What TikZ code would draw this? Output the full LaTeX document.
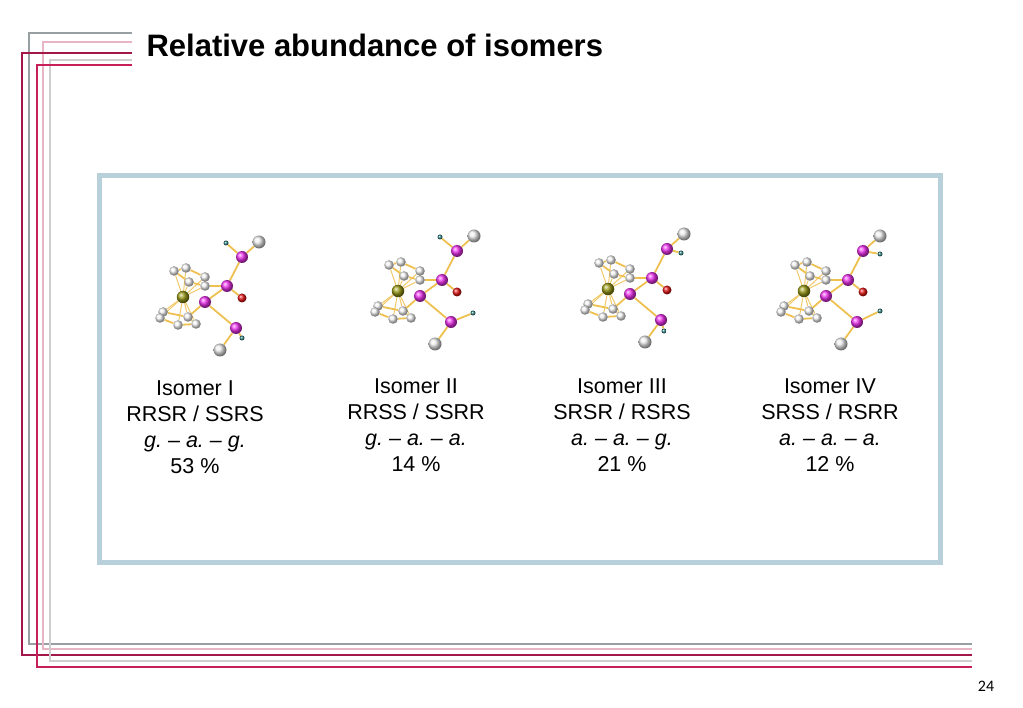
\documentclass[tikz,border=0pt]{standalone}
\usepackage{fontspec}
\setmainfont{Liberation Sans}
\newfontfamily\pagefont{Carlito}
\usetikzlibrary{backgrounds}
\frenchspacing

% Colours of the slide
\definecolor{framegray}{HTML}{979FA3}
\definecolor{framepink}{HTML}{E8B5C5}
\definecolor{framemaroon}{HTML}{A3174A}
\definecolor{framelight}{HTML}{CFCFCF}
\definecolor{framecrimson}{HTML}{C81E5A}
\definecolor{boxblue}{HTML}{B7D0DA}
\definecolor{bondgold}{HTML}{EEC050}
\definecolor{ironolive}{HTML}{9A9A18}
\definecolor{phosmag}{HTML}{EE30EE}
\definecolor{oxred}{HTML}{E01515}
\definecolor{hteal}{HTML}{2E7D7D}

\tikzset{
  frameline/.style={line width=1.5pt},
  bond/.style={draw=bondgold, line width=1.8pt},
  febond/.style={draw=bondgold!85!white, line width=1pt},
  atom/.style={circle, inner sep=0pt},
  carbon/.style={atom, ball color=white!88!gray, minimum size=9.5pt},
  iron/.style={atom, ball color=ironolive, minimum size=12.5pt},
  phos/.style={atom, ball color=phosmag, minimum size=12pt},
  oxy/.style={atom, ball color=oxred, minimum size=9pt},
  hyd/.style={atom, ball color=hteal, minimum size=5pt},
  endball/.style={atom, ball color=white!85!gray, minimum size=13pt},
  isotext/.style={align=center, font=\fontsize{21.5}{26}\selectfont}
}

% One ferrocene molecule: prefix, x, y of Fe, offset of upper H, offset of lower H
\newcommand{\ferrocene}[5]{%
\begin{scope}[shift={(#2,#3)}]
  % iron and the two rings
  \node[iron] (#1fe) at (0,0) {};
  \node[carbon] (#1u1) at (-9,-26) {};
  \node[carbon] (#1u2) at (3,-29) {};
  \node[carbon] (#1u3) at (22,-20) {};
  \node[carbon] (#1u4) at (22,-11) {};
  \node[carbon] (#1u5) at (6,-15) {};
  \node[carbon] (#1l1) at (-20,15) {};
  \node[carbon] (#1l2) at (-23,21) {};
  \node[carbon] (#1l3) at (-5,28) {};
  \node[carbon] (#1l4) at (13,27) {};
  \node[carbon] (#1l5) at (5,20) {};
  % phosphorus chain
  \node[phos] (#1p1) at (44,-11) {};
  \node[phos] (#1p2) at (22,5) {};
  \node[phos] (#1pt) at (59,-40) {};
  \node[phos] (#1pb) at (53,31) {};
  \node[oxy] (#1ox) at (59,1) {};
  \node[endball] (#1gt) at (76,-55) {};
  \node[endball] (#1gb) at (37,53) {};
  \node[hyd] (#1ht) at (#4) {};
  \node[hyd] (#1hb) at (#5) {};
  % bonds behind the balls
  \begin{pgfonlayer}{background}
    \foreach \atm in {u1,u2,u3,u4,u5,l1,l2,l3,l4,l5}
      \draw[febond] (#1fe) -- (#1\atm);
    \foreach \a/\b in {u1/u2,u2/u3,u3/u4,u4/u5,u5/u1,l1/l2,l2/l3,l3/l4,l4/l5,l5/l1,
                       u4/p1,p1/pt,p1/ox,p1/p2,p2/l5,p2/pb,pt/gt,pt/ht,pb/gb,pb/hb}
      \draw[bond] (#1\a) -- (#1\b);
  \end{pgfonlayer}
\end{scope}}

\begin{document}
\begin{tikzpicture}[x=1pt,y=-1pt]
  \useasboundingbox (0,0) rectangle (1023,708);

  % Frame lines of the slide
  \foreach \col/\xv/\yt/\yb in {framegray/29/33/644, framepink/43/42/649,
      framemaroon/22/53/655, framelight/50/60/661, framecrimson/37/65/667}
    \draw[frameline, \col] (132,\yt) -| (\xv,\yb) -- (972,\yb);

  % Title
  \node[anchor=base west, font=\bfseries\fontsize{31}{36}\selectfont] (title)
    at (143,57) {Relative abundance of isomers};

  % Light blue box
  \draw[line width=5pt, boxblue] (99.5,175.5) rectangle (940.5,562.5);

  % The four molecules
  \ferrocene{mI}{183}{297}{43,-54}{59,41}
  \ferrocene{mII}{398}{291}{42,-54}{75,22}
  \ferrocene{mIII}{608}{289}{73,-36}{56,42}
  \ferrocene{mIV}{804}{291}{76,-37}{76,20}

  % Labels below the molecules
  \node[isotext] (isoI) at (195,427)
    {Isomer I\\RRSR / SSRS\\\textit{g. -- a. -- g.}\\53 \%};
  \node[isotext] (isoII) at (416,425)
    {Isomer II\\RRSS / SSRR\\\textit{g. -- a. -- a.}\\14 \%};
  \node[isotext] (isoIII) at (622,425)
    {Isomer III\\SRSR / RSRS\\\textit{a. -- a. -- g.}\\21 \%};
  \node[isotext] (isoIV) at (830,425)
    {Isomer IV\\SRSS / RSRR\\\textit{a. -- a. -- a.}\\12 \%};

  % Page number
  \node[font=\pagefont\fontsize{16}{18}\selectfont] (pagenum) at (986,686) {24};
\end{tikzpicture}
\end{document}
